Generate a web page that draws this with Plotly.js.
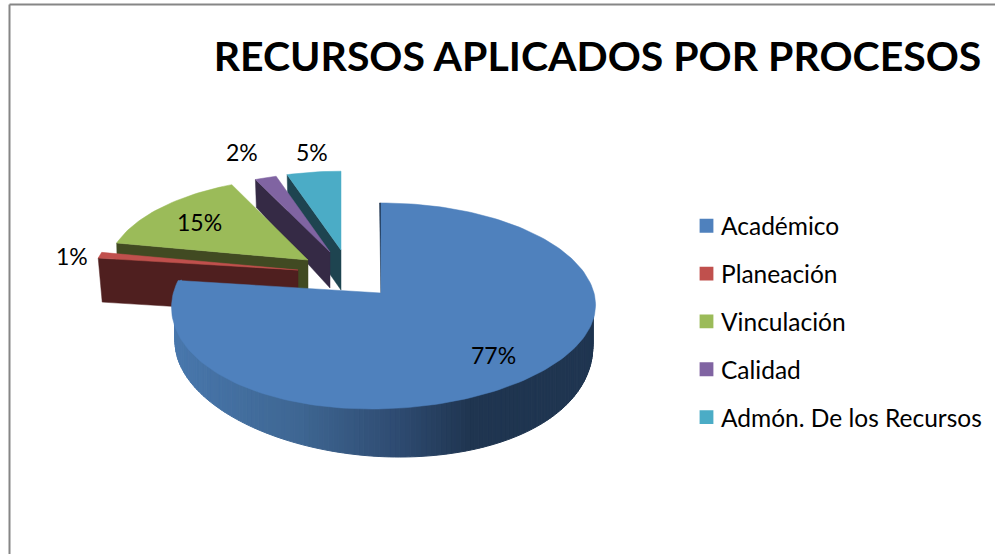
<!DOCTYPE html>
<html>
<head>
<meta charset="utf-8">
<script src="https://cdn.plot.ly/plotly-3.0.1.min.js"></script>
<style>html,body{margin:0;padding:0;background:#fff}#chart{width:995px;height:554px}</style>
</head>
<body>
<div id="chart"></div>
<script>
const categories = ['Académico','Planeación','Vinculación','Calidad','Admón. De los Recursos'];
const percents = [77,1,15,2,5];
const topColors = ['#4f81bd','#c0504d','#9bbb59','#8064a2','#4bacc6'];
const wallColors = ['#1f3550','#4f1f1f','#414a22','#352a45','#1e4450'];

// 3D look of the pie: camera model, and how far each wedge is pulled out
const cam = {B:213, A:101.4, p:0.126, leftK:0.975, frontSkew:-10};
const pullX = [381,298,308,330,341];
const pullY = [293,270,260,252,250];
const scaleKX = [1,0.985,0.96,0.94,0.94];
const scaleKY = [1,0.95,0.915,0.88,0.875];
const wallH = [0,44,40,36,40];
const FONT = 'Lato, "Open Sans", sans-serif';

function proj(deg){
  const t = deg*Math.PI/180, sn = Math.sin(t), d = Math.cos(t);
  const s = 1/(1+cam.p*d);
  let x = cam.B*sn*s*(sn<0?cam.leftK:1);
  const y = -cam.A*d*s;
  if(d<0) x += cam.frontSkew*d*d;
  return [x,y,d];
}
function arc(a0,a1,n){
  const out=[];
  for(let i=0;i<=n;i++) out.push(a0+(a1-a0)*i/n);
  return out;
}
function poly(pts,color,width){
  return {type:'scatter',mode:'lines',x:pts.map(p=>p[0]),y:pts.map(p=>p[1]),fill:'toself',
    fillcolor:color,line:{color:color,width:width||0.5},showlegend:false,hoverinfo:'skip'};
}
function wedgePts(i,a0,a1){
  const ax=pullX[i], ay=pullY[i];
  const pts=[[ax,ay]];
  arc(a0,a1,Math.max(4,Math.ceil((a1-a0)/1.5))).forEach(a=>{
    const q=proj(a); pts.push([ax+scaleKX[i]*q[0],ay+scaleKY[i]*q[1]]);
  });
  pts.push([ax,ay]);
  return pts;
}
// cumulative angles from the values
const total = percents.reduce((a,b)=>a+b,0);
const starts=[],ends=[];
percents.reduce((acc,v,i)=>{starts[i]=acc/total*360;ends[i]=(acc+v)/total*360;return acc+v;},0);

const traces=[];
// exploded wedges, back to front
[4,3,2,1].forEach(i=>{
  const ax=pullX[i], ay=pullY[i];
  const q=proj(starts[i]);
  const ox=ax+scaleKX[i]*q[0], oy=ay+scaleKY[i]*q[1], h=wallH[i];
  const hOuter = i===3 ? h-8 : h;
  const inset = i===1 ? 4 : 1;
  traces.push(poly([[ox,oy],[ax,ay],[ax,ay+h],[ox+inset,oy+hOuter],[ox,oy]],wallColors[i]));
  traces.push(poly(wedgePts(i,starts[i],ends[i]),topColors[i]));
});

// main wedge: shaded rim, then sliver, then top
function rimShade(x){
  const stops=[[175,[72,119,172]],[300,[62,102,146]],[400,[46,74,112]],[470,[31,53,80]],[600,[31,53,80]]];
  for(let j=0;j<stops.length-1;j++){
    if(x<=stops[j+1][0]){
      const f=Math.max(0,(x-stops[j][0])/(stops[j+1][0]-stops[j][0]));
      const c=stops[j][1].map((v,m)=>Math.round(v+(stops[j+1][1][m]-v)*f));
      return 'rgb('+c.join(',')+')';
    }
  }
  return 'rgb(31,53,80)';
}
function rimPoint(a){
  const q=proj(a), h=36-12*q[2];
  const d=Math.max(0,-q[2]);
  return [pullX[0]+q[0]*0.985+28*d*d, pullY[0]+q[1]+h, h+40*q[2]*q[2]];
}
const rimAngles=arc(90,ends[0],150);
for(let j=0;j<rimAngles.length-1;j++){
  const qa=rimPoint(rimAngles[j]),qb=rimPoint(rimAngles[j+1]);
  traces.push(poly([[qa[0],qa[1]-qa[2]],[qb[0],qb[1]-qb[2]],[qb[0],qb[1]],[qa[0],qa[1]],[qa[0],qa[1]-qa[2]]],rimShade((qa[0]+qb[0])/2),1));
}
const edgeQ=proj(0), edge=[pullX[0]+edgeQ[0],pullY[0]+edgeQ[1]];
traces.push(poly([[pullX[0],pullY[0]],edge,[edge[0]-1.5,edge[1]],[pullX[0],pullY[0]]],wallColors[0]));
traces.push(poly(wedgePts(0,starts[0],ends[0]),topColors[0]));

// legend entries
categories.forEach((c,i)=>{
  traces.push({type:'scatter',mode:'markers',x:[null],y:[null],name:c,legendgroup:c,
    marker:{symbol:'square',size:16,color:topColors[i]},hoverinfo:'skip'});
});

const labelX=[493,72,199,242,312], labelY=[355,256,222,152,152];
const annotations=percents.map((v,i)=>({x:labelX[i],y:labelY[i],xref:'x',yref:'y',text:v+'%',
  showarrow:false,xanchor:'center',yanchor:'middle',font:{family:FONT,size:23,color:'#000'}}));

const layout={
  width:995,height:554,margin:{l:0,r:0,t:0,b:0},
  paper_bgcolor:'#fff',plot_bgcolor:'#fff',
  title:{text:'<b>RECURSOS APLICADOS POR PROCESOS</b>',x:597.5/995,xanchor:'center',xref:'paper',
    y:1-57/554,yanchor:'middle',yref:'paper',font:{family:FONT,size:41,color:'#000'}},
  xaxis:{range:[0,995],visible:false,fixedrange:true},
  yaxis:{range:[554,0],visible:false,fixedrange:true},
  showlegend:true,
  legend:{x:686.5/995,xanchor:'left',y:1-203.3/554,yanchor:'top',traceorder:'grouped',tracegroupgap:13,
    font:{family:FONT,size:24.5,color:'#000'},itemsizing:'constant',itemclick:false,itemdoubleclick:false,
    bgcolor:'rgba(0,0,0,0)'},
  annotations:annotations,
  shapes:[
    {type:'line',xref:'x',yref:'y',x0:9.5,x1:9.5,y0:4.5,y1:554,line:{color:'#868686',width:2}},
    {type:'line',xref:'x',yref:'y',x0:9.5,x1:995,y0:4.5,y1:4.5,line:{color:'#868686',width:2}}
  ]
};
Plotly.newPlot('chart',traces,layout,{displayModeBar:false}).then(()=>{
  // the swatch sits closer to its text than the library's minimum item width allows
  document.querySelectorAll('#chart .legendtext').forEach(t=>{
    t.setAttribute('x',String(parseFloat(t.getAttribute('x'))-5.5));
  });
  document.querySelectorAll('#chart .legendpoints path').forEach(p=>{
    p.setAttribute('transform',(p.getAttribute('transform')||'')+' scale(1.15)');
  });
});
</script>
</body>
</html>
